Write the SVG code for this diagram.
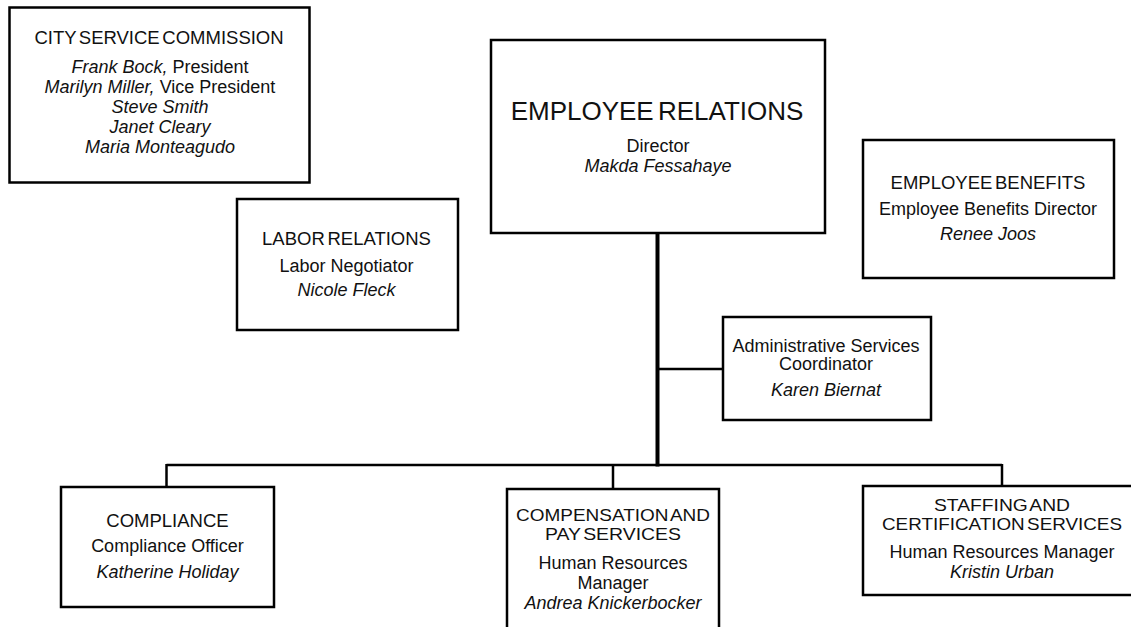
<svg xmlns="http://www.w3.org/2000/svg" width="1131" height="627" viewBox="0 0 1131 627">
  <style>
    .box { fill: #ffffff; stroke: #000000; stroke-width: 2.5; }
    .wire { fill: none; stroke: #000000; stroke-width: 2.5; }
    .trunk { fill: none; stroke: #000000; stroke-width: 4; }
    text { font-family: "Liberation Sans", Arial, sans-serif; fill: #111111; text-anchor: middle; }
    .head { font-size: 18.5px; word-spacing: -2.5px; }
    .head2 { font-size: 17px; word-spacing: -2.5px; }
    .big { font-size: 26px; word-spacing: -3px; }
    .body { font-size: 18px; }
    .name { font-size: 18px; font-style: italic; }
  </style>
  <rect width="1131" height="627" fill="#ffffff"/>

  <!-- reporting lines -->
  <g id="connectors">
    <line class="trunk" x1="657.5" y1="233" x2="657.5" y2="466.5"/>
    <line class="wire" x1="657.5" y1="369" x2="723" y2="369"/>
    <line class="wire" x1="166.5" y1="465" x2="1002" y2="465"/>
    <line class="wire" x1="166.5" y1="464" x2="166.5" y2="487"/>
    <line class="wire" x1="613" y1="464" x2="613" y2="489"/>
    <line class="wire" x1="1002" y1="464" x2="1002" y2="486"/>
  </g>

  <g id="city-service-commission">
    <rect class="box" x="9.5" y="7.5" width="300" height="175"/>
    <text class="head" x="159" y="43.5">CITY SERVICE COMMISSION</text>
    <text class="body" x="160" y="73"><tspan font-style="italic">Frank Bock,</tspan> President</text>
    <text class="body" x="160" y="93"><tspan font-style="italic">Marilyn Miller,</tspan> Vice President</text>
    <text class="name" x="160" y="113">Steve Smith</text>
    <text class="name" x="160" y="133">Janet Cleary</text>
    <text class="name" x="160" y="153">Maria Monteagudo</text>
  </g>

  <g id="employee-relations">
    <rect class="box" x="491" y="40" width="334" height="193"/>
    <text class="big" x="657" y="119.5">EMPLOYEE RELATIONS</text>
    <text class="body" x="658" y="152">Director</text>
    <text class="name" x="658" y="172">Makda Fessahaye</text>
  </g>

  <g id="labor-relations">
    <rect class="box" x="237" y="199" width="221" height="131"/>
    <text class="head" x="346.5" y="245">LABOR RELATIONS</text>
    <text class="body" x="346.5" y="271.5">Labor Negotiator</text>
    <text class="name" x="346.5" y="296">Nicole Fleck</text>
  </g>

  <g id="employee-benefits">
    <rect class="box" x="863" y="140" width="251" height="138"/>
    <text class="head" x="988" y="188.5">EMPLOYEE BENEFITS</text>
    <text class="body" x="988" y="215">Employee Benefits Director</text>
    <text class="name" x="988" y="240">Renee Joos</text>
  </g>

  <g id="administrative-services">
    <rect class="box" x="723" y="317" width="208" height="103"/>
    <text class="body" x="826" y="351.5">Administrative Services</text>
    <text class="body" x="826" y="370">Coordinator</text>
    <text class="name" x="826" y="396">Karen Biernat</text>
  </g>

  <g id="compliance">
    <rect class="box" x="61" y="487" width="213" height="120"/>
    <text class="head" x="167.5" y="526.5">COMPLIANCE</text>
    <text class="body" x="167.5" y="552">Compliance Officer</text>
    <text class="name" x="167.5" y="578">Katherine Holiday</text>
  </g>

  <g id="compensation-pay-services">
    <rect class="box" x="507" y="489" width="212" height="160"/>
    <text class="head2" x="613" y="520.5" textLength="194" lengthAdjust="spacingAndGlyphs">COMPENSATION AND</text>
    <text class="head2" x="613" y="539.5" textLength="136" lengthAdjust="spacingAndGlyphs">PAY SERVICES</text>
    <text class="body" x="613" y="568.5">Human Resources</text>
    <text class="body" x="613" y="588.5">Manager</text>
    <text class="name" x="613" y="608.5">Andrea Knickerbocker</text>
  </g>

  <g id="staffing-certification-services">
    <rect class="box" x="863" y="486" width="278" height="109"/>
    <text class="head2" x="1002" y="511" textLength="136" lengthAdjust="spacingAndGlyphs">STAFFING AND</text>
    <text class="head2" x="1002" y="530" textLength="240" lengthAdjust="spacingAndGlyphs">CERTIFICATION SERVICES</text>
    <text class="body" x="1002" y="558">Human Resources Manager</text>
    <text class="name" x="1002" y="578">Kristin Urban</text>
  </g>
</svg>
